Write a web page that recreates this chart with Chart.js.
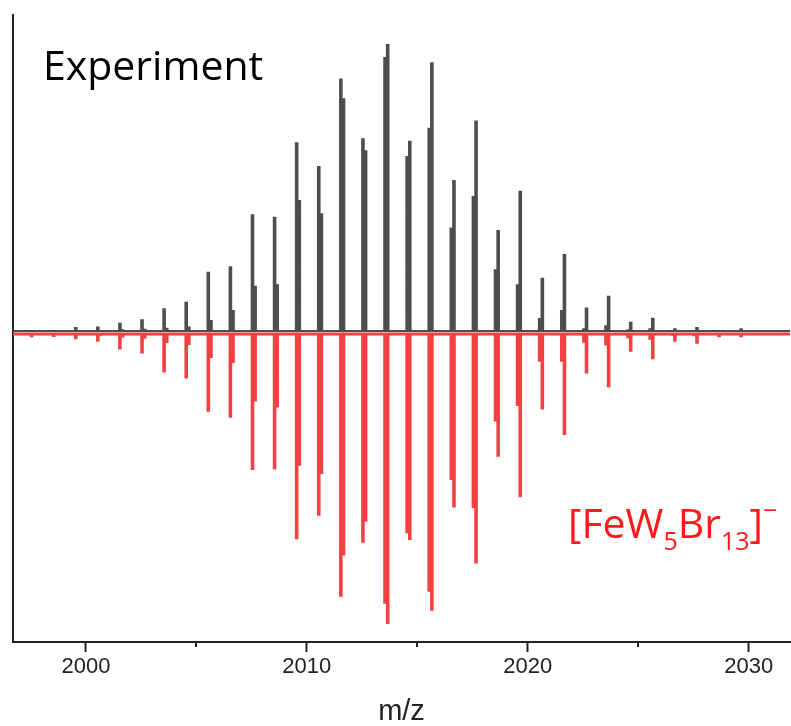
<!DOCTYPE html>
<html><head><meta charset="utf-8">
<script src="https://cdn.jsdelivr.net/npm/chart.js@4"></script>
<style>html,body{margin:0;padding:0;background:#fff}#wrap{width:791px;height:726px;position:relative}</style>
</head><body><div id="wrap"><canvas id="c"></canvas></div>
<script>
// ---- data ----
const peakMz = [1997.6,1998.6,1999.6,2000.6,2001.6,2002.6,2003.6,2004.6,2005.6,2006.6,2007.6,2008.6,2009.6,2010.6,2011.6,2012.6,2013.6,2014.6,2015.6,2016.6,2017.6,2018.6,2019.6,2020.6,2021.6,2022.6,2023.6,2024.6,2025.6,2026.6,2027.6,2028.6,2029.6];
// experiment: left / right isotope sub-stick (relative intensity)
const expLeft  = [1.0,1.2,2.4,2.6,3.9,5.1,8.9,11.1,21.5,23.4,41.3,40.4,66.1,57.9,88.1,67.5,95.5,61.4,71.1,36.7,47.6,22.3,17.2,5.5,8.3,2.0,3.0,1.6,2.0,1.2,1.2,1.0,1.2];
const expRight = [1.0,1.0,1.2,1.4,1.6,1.8,2.2,2.6,4.8,8.3,16.6,17.2,46.2,41.6,81.3,63.4,100,66.6,93.7,53.1,73.6,35.9,49.4,19.4,27.6,9.1,13.2,4.2,5.6,2.0,2.4,1.4,2.0];
// simulation (plotted downward)
const simLeft  = [-1.1,-1.0,-1.8,-2.7,-5.3,-6.7,-13.3,-15.3,-26.8,-28.9,-46.9,-46.6,-70.8,-62.7,-90.6,-72.0,-93.0,-68.7,-88.9,-50.3,-60.1,-30.2,-24.8,-9.6,-9.6,-3.0,-4.0,-1.5,-2.0,-0.6,-0.8,-0.3,-0.3];
const simRight = [-0.3,-0.3,-0.4,-0.6,-1.2,-1.6,-3.1,-3.8,-8.3,-10.0,-23.3,-25.3,-45.4,-48.3,-76.4,-64.7,-100,-71.0,-95.4,-59.8,-79.1,-42.3,-56.3,-26.0,-34.8,-13.6,-18.4,-6.1,-8.7,-2.7,-3.4,-1.1,-1.1];
const expBaseline = 1.0;
const simBaseline = 0;
const majorTicks = [2000, 2010, 2020, 2030];
const minorTicks = [2005, 2015, 2025];
const xRange = [1996.7, 2031.87];
const yRange = [-106.2, 110];
const expLabel = 'Experiment';
const simLabelParts = [['[FeW',0],['5',-1],['Br',0],['13',-1],[']',0],['\u2212',1]];

const SUB_OFFSET = 0.06; // half spacing of the two isotope sub-sticks (m/z)

// vertical sticks as broken line segments (null = gap)
function sticks(left, right, base) {
  const pts = [];
  peakMz.forEach((c, i) => {
    const xl = c - SUB_OFFSET, xr = c + SUB_OFFSET;
    pts.push({x: xl, y: base}, {x: xl, y: left[i]}, {x: c, y: null},
             {x: xr, y: base}, {x: xr, y: right[i]}, {x: xr + 0.001, y: null});
  });
  return pts;
}
function baseline(base) {
  return xRange.map(x => ({ x: x, y: base }));
}

const EXP_COLOR = '#4d4d4d', SIM_COLOR = '#f24141', AXIS_COLOR = '#222';

const overlay = {
  id: 'overlay',
  afterDraw(chart) {
    const ctx = chart.ctx, xs = chart.scales.x, ca = chart.chartArea;
    ctx.save();
    ctx.strokeStyle = AXIS_COLOR; ctx.lineWidth = 2;
    minorTicks.forEach(v => {
      const px = Math.round(xs.getPixelForValue(v));
      ctx.beginPath(); ctx.moveTo(px, ca.bottom); ctx.lineTo(px, ca.bottom + 5); ctx.stroke();
    });
    ctx.fillStyle = '#000';
    ctx.font = '41px "Open Sans"';
    ctx.textBaseline = 'alphabetic';
    ctx.fillText(expLabel, ca.left + 30, ca.top + 65);
    ctx.fillStyle = '#ff1a1a';
    let x = ca.left + 555, y = ca.top + 523;
    simLabelParts.forEach(([t, pos]) => {
      const size = pos === 0 ? 41 : 25;
      ctx.font = size + 'px "Open Sans"';
      const dy = pos === -1 ? 12 : (pos === 1 ? -19 : 0);
      ctx.fillText(t, x, y + dy);
      x += ctx.measureText(t).width;
    });
    ctx.restore();
  }
};

const stickCommon = { pointRadius: 0, tension: 0, spanGaps: false, borderWidth: 3.6, borderCapStyle: 'butt', fill: false };

new Chart(document.getElementById('c'), {
  type: 'line',
  data: {
    datasets: [
      { label: 'sim baseline', data: baseline(simBaseline), borderColor: SIM_COLOR,
        borderWidth: 3, pointRadius: 0, order: 0 },
      Object.assign({ label: 'Simulation', data: sticks(simLeft, simRight, simBaseline), borderColor: SIM_COLOR, order: 1 }, stickCommon),
      Object.assign({ label: 'Experiment', data: sticks(expLeft, expRight, expBaseline), borderColor: EXP_COLOR, order: 2 }, stickCommon),
      { label: 'exp baseline', data: baseline(expBaseline), borderColor: EXP_COLOR,
        borderWidth: 2, pointRadius: 0, order: 3 }
    ]
  },
  options: {
    responsive: true, maintainAspectRatio: false, animation: false,
    layout: { padding: { left: 13, right: 1, top: 15, bottom: 0 } },
    plugins: { legend: { display: false }, tooltip: { enabled: false } },
    scales: {
      x: {
        type: 'linear', min: xRange[0], max: xRange[1],
        afterBuildTicks: axis => { axis.ticks = majorTicks.map(v => ({value: v})); },
        ticks: { font: { family: '"Liberation Sans"', size: 22, lineHeight: 1 }, color: AXIS_COLOR,
                 padding: 4, maxRotation: 0, autoSkip: false, callback: v => String(v) },
        grid: { display: true, drawOnChartArea: false, drawTicks: true, tickLength: 10,
                tickColor: AXIS_COLOR, tickWidth: 2 },
        border: { display: true, color: AXIS_COLOR, width: 2 },
        title: { display: true, text: 'm/z', color: AXIS_COLOR,
                 font: { family: '"Liberation Sans"', size: 29, lineHeight: 0.95 }, padding: { top: 16.45, bottom: 0 } }
      },
      y: {
        min: yRange[0], max: yRange[1],
        ticks: { display: false },
        grid: { display: false, drawTicks: false },
        border: { display: true, color: AXIS_COLOR, width: 2 }
      }
    }
  },
  plugins: [overlay]
});
</script>
</body></html>
